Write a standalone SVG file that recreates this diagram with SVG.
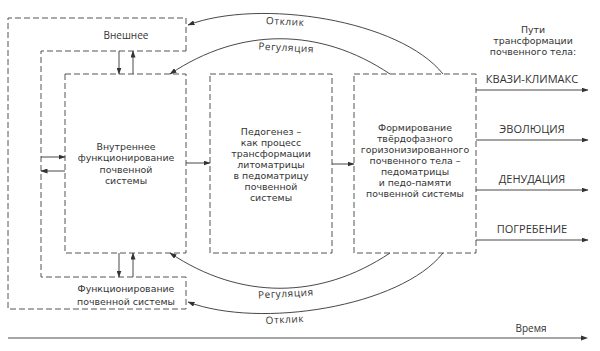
<svg xmlns="http://www.w3.org/2000/svg" width="600" height="351" viewBox="0 0 600 351">
<defs>
<marker id="ah" markerWidth="7" markerHeight="5" refX="6.5" refY="2.5" orient="auto" markerUnits="userSpaceOnUse">
<path d="M0,0 L7,2.5 L0,5 z" fill="#333"/>
</marker>
<style>
.frame{fill:none;stroke:#555;stroke-width:1;stroke-dasharray:6 3}
.ln{fill:none;stroke:#333;stroke-width:0.9;marker-end:url(#ah)}
.t{font-family:"DejaVu Sans",sans-serif;font-size:9.4px;fill:#333;text-anchor:middle}
.t1{font-family:"Open Sans","Noto Sans",sans-serif;font-size:10px;fill:#333;text-anchor:middle}
.u{font-family:"Open Sans","Noto Sans",sans-serif;font-size:11px;fill:#333;text-anchor:middle}
.cl{font-family:"Open Sans","Noto Sans",sans-serif;font-size:10px;fill:#333;text-anchor:middle;letter-spacing:0.6px}
</style>
</defs>
<rect width="600" height="351" fill="#fff"/>

<g id="external">
<path class="frame" d="M186,51 L186,18 L8,18 L8,309 L186,309 L186,277 L41,277 L41,51 Z"/>
<text class="t1" x="126" y="38.5">Внешнее</text>
<text class="t" x="126" y="292"><tspan x="126">Функционирование</tspan><tspan x="126" dy="13">почвенной системы</tspan></text>
</g>

<g id="internal">
<rect class="frame" x="65" y="74" width="121" height="179"/>
<text class="t" x="126" y="149.5"><tspan x="126">Внутреннее</tspan><tspan x="126" dy="11.5">функционирование</tspan><tspan x="126" dy="11.5">почвенной</tspan><tspan x="126" dy="11.5">системы</tspan></text>
</g>

<g id="pedogenesis">
<rect class="frame" x="210" y="74" width="122" height="179"/>
<text class="t" x="271" y="134.5"><tspan x="271">Педогенез –</tspan><tspan x="271" dy="11">как процесс</tspan><tspan x="271" dy="11">трансформации</tspan><tspan x="271" dy="11">литоматрицы</tspan><tspan x="271" dy="11">в педоматрицу</tspan><tspan x="271" dy="11">почвенной</tspan><tspan x="271" dy="11">системы</tspan></text>
</g>

<g id="formation">
<rect class="frame" x="354" y="74" width="122" height="179"/>
<text class="t" x="415" y="130.5"><tspan x="415">Формирование</tspan><tspan x="415" dy="11">твёрдофазного</tspan><tspan x="415" dy="11">горизонизированного</tspan><tspan x="415" dy="11">почвенного тела –</tspan><tspan x="415" dy="11">педоматрицы</tspan><tspan x="415" dy="11">и педо-памяти</tspan><tspan x="415" dy="11">почвенной системы</tspan></text>
</g>

<g id="paths-title">
<text class="t" x="533" y="33"><tspan x="533">Пути</tspan><tspan x="533" dy="11">трансформации</tspan><tspan x="533" dy="11">почвенного тела:</tspan></text>
</g>

<g id="outcomes">
<text class="u" x="532" y="83">КВАЗИ-КЛИМАКС</text>
<text class="u" x="532" y="133">ЭВОЛЮЦИЯ</text>
<text class="u" x="532" y="183">ДЕНУДАЦИЯ</text>
<text class="u" x="532" y="233">ПОГРЕБЕНИЕ</text>
</g>

<g id="time">
<line x1="8" y1="338" x2="582" y2="338" stroke="#888" stroke-width="1.6"/>
<path d="M581,335.5 L588,338 L581,340.5 z" fill="#333"/>
<text class="t1" x="531" y="332">Время</text>
</g>

<g id="connectors">
<line class="ln" x1="119" y1="51" x2="119" y2="74"/>
<line class="ln" x1="133" y1="74" x2="133" y2="51"/>
<line class="ln" x1="119" y1="253" x2="119" y2="277"/>
<line class="ln" x1="133" y1="277" x2="133" y2="253"/>
<line class="ln" x1="41" y1="157" x2="65" y2="157"/>
<line class="ln" x1="65" y1="171" x2="41" y2="171"/>
<line class="ln" x1="186" y1="163" x2="210" y2="163"/>
<line class="ln" x1="332" y1="164" x2="354" y2="164"/>
<line class="ln" x1="476" y1="90" x2="588" y2="90"/>
<line class="ln" x1="476" y1="140" x2="588" y2="140"/>
<line class="ln" x1="476" y1="190" x2="588" y2="190"/>
<line class="ln" x1="476" y1="240" x2="588" y2="240"/>
<path class="ln" d="M443,74 C400,20 260,-2 188,25"/>
<path class="ln" d="M390,74 C320,27 240,27 170,74"/>
<path class="ln" d="M390,253 C320,300 240,300 170,253"/>
<path class="ln" d="M443,253 C400,307 260,329 188,302"/>
</g>

<g id="curve-labels">
<text class="cl" transform="translate(285,25) rotate(3)">Отклик</text>
<text class="cl" transform="translate(286,51) rotate(3)">Регуляция</text>
<text class="cl" transform="translate(286,297) rotate(-3)">Регуляция</text>
<text class="cl" transform="translate(285,323) rotate(-3)">Отклик</text>
</g>
</svg>
